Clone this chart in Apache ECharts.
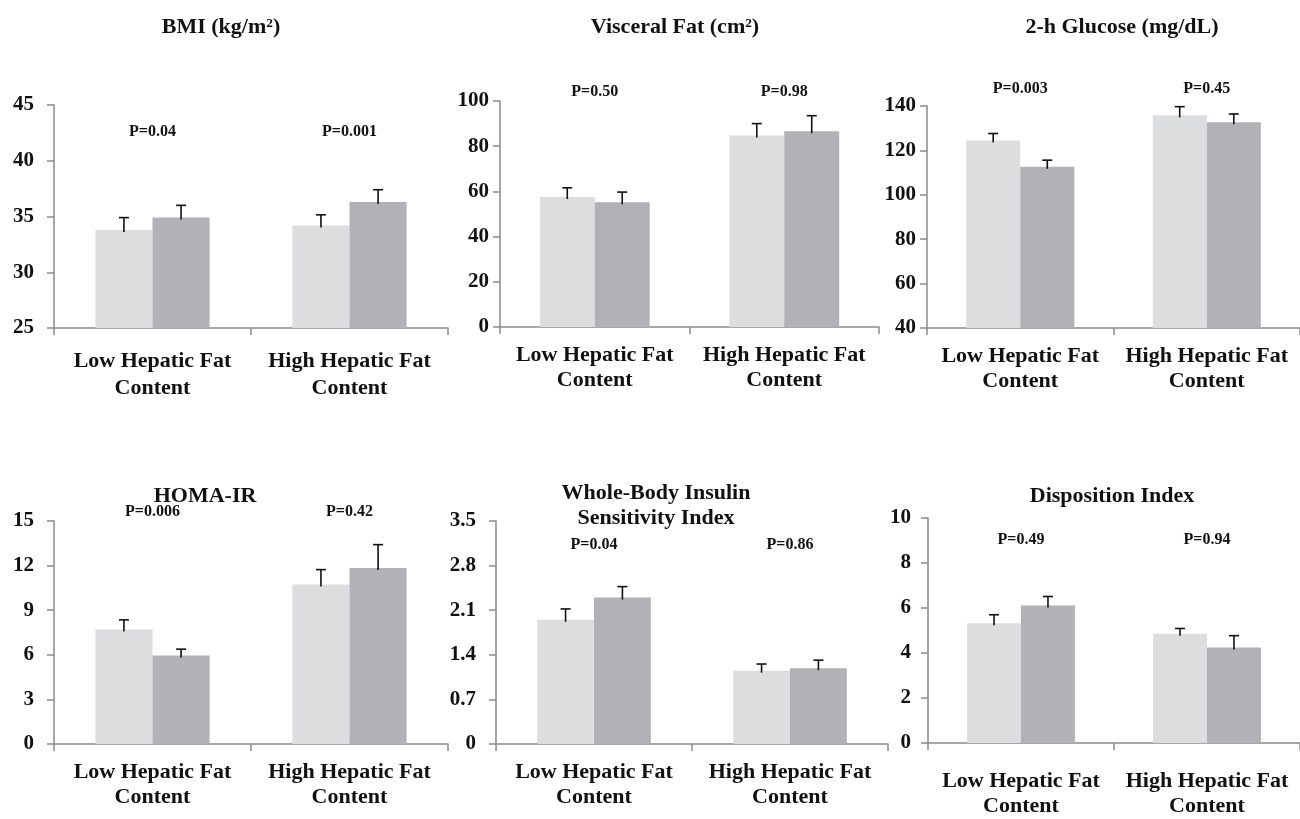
<!DOCTYPE html>
<html>
<head>
<meta charset="utf-8">
<script src="https://cdn.jsdelivr.net/npm/echarts@6/dist/echarts.min.js"></script>
<style>
  html, body { margin: 0; padding: 0; background: #fff; }
  #container { width: 1300px; height: 819px; }
</style>
</head>
<body>
<div id="container"></div>
<script>
// data
var categories = ['Low Hepatic Fat\nContent', 'High Hepatic Fat\nContent'];
var titles = ['BMI (kg/m²)', 'Visceral Fat (cm²)', '2-h Glucose (mg/dL)',
  'HOMA-IR', 'Whole-Body Insulin\nSensitivity Index', 'Disposition Index'];
var pLabels = [
  ['P=0.04', 'P=0.001'],
  ['P=0.50', 'P=0.98'],
  ['P=0.003', 'P=0.45'],
  ['P=0.006', 'P=0.42'],
  ['P=0.04', 'P=0.86'],
  ['P=0.49', 'P=0.94']
];

var bmiA = [33.8, 34.2], bmiAErr = [1.1, 0.95];
var bmiB = [34.9, 36.3], bmiBErr = [1.1, 1.1];
var visceralA = [57.5, 84.7], visceralAErr = [4.1, 5.3];
var visceralB = [55.2, 86.6], visceralBErr = [4.5, 6.9];
var glucoseA = [124.5, 135.8], glucoseAErr = [3.1, 3.9];
var glucoseB = [112.6, 132.7], glucoseBErr = [3.0, 3.7];
var homaA = [7.7, 10.73], homaAErr = [0.65, 1.0];
var homaB = [5.96, 11.84], homaBErr = [0.42, 1.57];
var wbisiA = [1.95, 1.15], wbisiAErr = [0.17, 0.105];
var wbisiB = [2.30, 1.19], wbisiBErr = [0.17, 0.126];
var dispA = [5.32, 4.86], dispAErr = [0.38, 0.23];
var dispB = [6.11, 4.24], dispBErr = [0.40, 0.53];

var yMin = [25, 0, 40, 0, 0, 0];
var yMax = [45, 100, 140, 15, 3.5, 10];
var yStep = [5, 20, 20, 3, 0.7, 2];

var seriesA = [bmiA, visceralA, glucoseA, homaA, wbisiA, dispA];
var seriesAErr = [bmiAErr, visceralAErr, glucoseAErr, homaAErr, wbisiAErr, dispAErr];
var seriesB = [bmiB, visceralB, glucoseB, homaB, wbisiB, dispB];
var seriesBErr = [bmiBErr, visceralBErr, glucoseBErr, homaBErr, wbisiBErr, dispBErr];

// layout (pixels)
var grids = [
  { left: 54, top: 105, width: 394, height: 223 },
  { left: 500, top: 101, width: 379, height: 226 },
  { left: 927, top: 106, width: 386, height: 222 },
  { left: 54, top: 521, width: 394, height: 223 },
  { left: 496, top: 521, width: 392, height: 223 },
  { left: 928, top: 518, width: 384, height: 226 }
];
var titlePos = [[221, 27], [675, 27], [1122, 27], [205, 496], [656, 506], [1112, 496]];
var pY = [132, 92, 89, 512, 545, 540];
var yLabelMargin = [20, 11, 11, 20, 20, 17];
var xLabelMargin = [20, 16, 16, 16, 16, 26];

var FONT = '"Liberation Serif", "Times New Roman", serif';
var GAP = 0.42;
var lightColor = '#dcdddf';
var darkColor = '#b1b2b6';
var axisColor = '#8a8a8a';

var chartDom = document.getElementById('container');
var myChart = echarts.init(chartDom);

function errorSeries(idx, vals, errs, side) {
  return {
    type: 'custom',
    xAxisIndex: idx,
    yAxisIndex: idx,
    z: 5,
    clip: false,
    encode: { x: 0, y: 1 },
    data: vals.map(function (v, i) { return [i, v, errs[i]]; }),
    renderItem: function (params, api) {
      var base = api.coord([api.value(0), api.value(1)]);
      var top = api.coord([api.value(0), api.value(1) + api.value(2)]);
      var band = api.size([1, 0])[0];
      var bw = band * (1 - GAP) / 2;
      var x = base[0] + side * bw / 2;
      var st = { stroke: '#111', lineWidth: 1.6 };
      return {
        type: 'group',
        children: [
          { type: 'line', shape: { x1: x, y1: base[1] + 2, x2: x, y2: top[1] }, style: st },
          { type: 'line', shape: { x1: x - 5, y1: top[1], x2: x + 5, y2: top[1] }, style: st }
        ]
      };
    }
  };
}

var option = {
  backgroundColor: '#fff',
  animation: false,
  grid: [], xAxis: [], yAxis: [], series: []
};

for (var i = 0; i < 6; i++) {
  option.grid.push(Object.assign({ containLabel: false }, grids[i]));
  option.xAxis.push({
    type: 'category',
    gridIndex: i,
    data: categories,
    axisLine: { lineStyle: { color: axisColor, width: 1.5 } },
    axisTick: { show: true, length: 7, lineStyle: { color: axisColor, width: 1.5 } },
    axisLabel: {
      interval: 0,
      margin: xLabelMargin[i],
      color: '#111',
      fontFamily: FONT,
      fontWeight: 'bold',
      fontSize: 22,
      lineHeight: i === 0 ? 27 : 25
    }
  });
  option.yAxis.push({
    type: 'value',
    gridIndex: i,
    min: yMin[i],
    max: yMax[i],
    interval: yStep[i],
    splitLine: { show: false },
    axisLine: { show: true, lineStyle: { color: axisColor, width: 1.5 } },
    axisTick: { show: true, length: 7, lineStyle: { color: axisColor, width: 1.5 } },
    axisLabel: {
      margin: yLabelMargin[i],
      color: '#111',
      fontFamily: FONT,
      fontWeight: 'bold',
      fontSize: 21
    }
  });
  option.series.push({
    type: 'bar',
    xAxisIndex: i, yAxisIndex: i,
    data: seriesA[i],
    barGap: '0%',
    barCategoryGap: (GAP * 100) + '%',
    itemStyle: { color: lightColor }
  });
  option.series.push({
    type: 'bar',
    xAxisIndex: i, yAxisIndex: i,
    data: seriesB[i],
    barGap: '0%',
    barCategoryGap: (GAP * 100) + '%',
    itemStyle: { color: darkColor }
  });
  option.series.push(errorSeries(i, seriesA[i], seriesAErr[i], -1));
  option.series.push(errorSeries(i, seriesB[i], seriesBErr[i], 1));
}

myChart.setOption(option);

// titles and P values as text
var graphics = [];
for (var j = 0; j < 6; j++) {
  graphics.push({
    type: 'text',
    x: titlePos[j][0],
    y: titlePos[j][1],
    style: {
      text: titles[j],
      font: 'bold 22px ' + FONT,
      fill: '#111',
      align: 'center',
      verticalAlign: 'middle',
      lineHeight: 25
    }
  });
  for (var k = 0; k < 2; k++) {
    var px = myChart.convertToPixel({ xAxisIndex: j }, k);
    graphics.push({
      type: 'text',
      x: px,
      y: pY[j],
      style: {
        text: pLabels[j][k],
        font: 'bold 16px ' + FONT,
        fill: '#111',
        align: 'center',
        verticalAlign: 'middle'
      }
    });
  }
}
myChart.setOption({ graphic: graphics });
</script>
</body>
</html>
